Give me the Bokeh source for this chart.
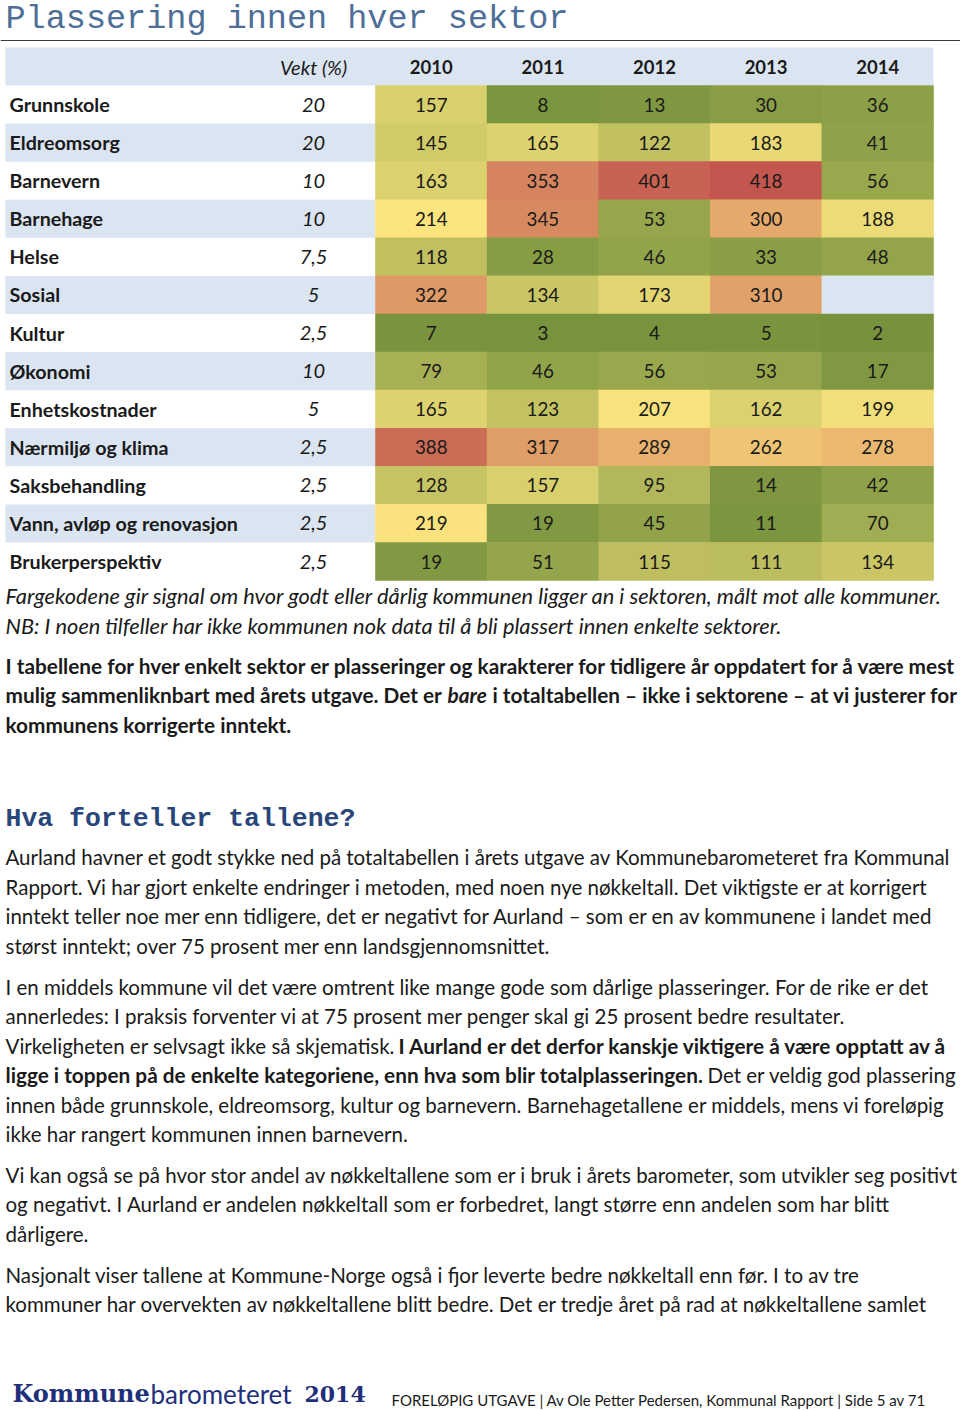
from bokeh.plotting import figure
from bokeh.models import Range1d, ColumnDataSource
from bokeh.core.properties import value
from bokeh.embed import file_html
from bokeh.resources import INLINE

# ---------------- data ----------------
sectors = ["Grunnskole", "Eldreomsorg", "Barnevern", "Barnehage", "Helse", "Sosial",
           "Kultur", "Økonomi", "Enhetskostnader", "Nærmiljø og klima",
           "Saksbehandling", "Vann, avløp og renovasjon", "Brukerperspektiv"]
weights = ["20", "20", "10", "10", "7,5", "5", "2,5", "10", "5", "2,5", "2,5", "2,5", "2,5"]
years = ["2010", "2011", "2012", "2013", "2014"]
r2010 = [157, 145, 163, 214, 118, 322, 7, 79, 165, 388, 128, 219, 19]
r2011 = [8, 165, 353, 345, 28, 134, 3, 46, 123, 317, 157, 19, 51]
r2012 = [13, 122, 401, 53, 46, 173, 4, 56, 207, 289, 95, 45, 115]
r2013 = [30, 183, 418, 300, 33, 310, 5, 53, 162, 262, 14, 11, 111]
r2014 = [36, 41, 56, 188, 48, None, 2, 17, 199, 278, 42, 70, 134]
ranks = [r2010, r2011, r2012, r2013, r2014]

title_text = "Plassering innen hver sektor"
weight_header = "Vekt (%)"
note_lines = [
    "Fargekodene gir signal om hvor godt eller dårlig kommunen ligger an i sektoren, målt mot alle kommuner.",
    "NB: I noen tilfeller har ikke kommunen nok data til å bli plassert innen enkelte sektorer.",
]
heading2 = "Hva forteller tallene?"
footer_logo = ["Kommune", "barometeret", "2014"]
footer_text = "FORELØPIG UTGAVE | Av Ole Petter Pedersen, Kommunal Rapport | Side 5 av 71"

# ---------------- styles ----------------
FONT = "Lato"
TXT = "#1a1a1a"
BLUE_BG = "#dbe5f1"
GREEN = (118, 146, 60)
YELLOW = (252, 229, 127)
RED = (192, 80, 77)
LO, MID, HI = 1, 214, 428


def mix(a, b, t):
    return tuple(int(round(a[k] + (b[k] - a[k]) * t)) for k in range(3))


def cell_color(v):
    if v is None:
        return BLUE_BG
    if v <= MID:
        c = mix(GREEN, YELLOW, (v - LO) / (MID - LO))
    else:
        c = mix(YELLOW, RED, min(1.0, (v - MID) / (HI - MID)))
    return "#%02x%02x%02x" % c


p = figure(width=960, height=1410, x_range=Range1d(0, 960), y_range=Range1d(1410, 0),
           output_backend="svg", toolbar_location=None, min_border=0,
           x_axis_location=None, y_axis_location=None)
p.grid.visible = False
p.outline_line_color = None
p.background_fill_color = "white"
p.border_fill_color = "white"

# title and rule
p.text(x=[5], y=[18], text=[title_text], text_font=value("Liberation Mono"),
       text_font_size=value("33.5px"), text_color="#4d6e96", text_baseline="middle",
       text_align="left")
p.segment(x0=[0], y0=[40], x1=[960], y1=[40], line_color="#3a3a3a", line_width=1.2)

# table geometry
ROW_TOP = 85.0
ROW_H = 38.08
COL_L = 375.0
COL_W = 111.6
LBL_L = 5.0
n = len(sectors)

row_y = [ROW_TOP + ROW_H * (i + 0.5) for i in range(n)]
col_x = [COL_L + COL_W * (j + 0.5) for j in range(len(years))]

# header row background
p.quad(left=[LBL_L], right=[COL_L + COL_W * len(years)], top=[47], bottom=[ROW_TOP],
       fill_color=BLUE_BG, line_color=None)
p.text(x=[313], y=[66], text=[weight_header], text_font=value(FONT), text_font_style="italic",
       text_font_size=value("20px"), text_color=TXT, text_align="center", text_baseline="middle")
p.text(x=col_x, y=[66] * len(years), text=years, text_font=value(FONT), text_font_style="bold",
       text_font_size=value("18.5px"), text_color=TXT, text_align="center", text_baseline="middle")

# label column alternating backgrounds
odd = [i for i in range(n) if i % 2 == 1]
p.quad(left=[LBL_L] * len(odd), right=[COL_L] * len(odd),
       top=[ROW_TOP + ROW_H * i for i in odd], bottom=[ROW_TOP + ROW_H * (i + 1) for i in odd],
       fill_color=BLUE_BG, line_color=None)

p.text(x=[9] * n, y=row_y, text=sectors, text_font=value(FONT), text_font_style="bold",
       text_font_size=value("19.7px"), text_color=TXT, text_align="left", text_baseline="middle")
p.text(x=[313] * n, y=row_y, text=weights, text_font=value(FONT), text_font_style="italic",
       text_font_size=value("20px"), text_color=TXT, text_align="center", text_baseline="middle")

# heatmap cells
cx, cy, cc, ct = [], [], [], []
for j, series in enumerate(ranks):
    for i, v in enumerate(series):
        cx.append(col_x[j])
        cy.append(row_y[i])
        cc.append(cell_color(v))
        ct.append("" if v is None else str(v))
src = ColumnDataSource(dict(x=cx, y=cy, c=cc, t=ct))
p.rect(x="x", y="y", width=COL_W + 0.6, height=ROW_H + 0.6, fill_color="c", line_color=None, source=src)
p.text(x="x", y="y", text="t", source=src, text_font=value(FONT), text_font_size=value("18.8px"),
       text_color=TXT, text_align="center", text_baseline="middle")

# ---------------- body text ----------------
BODY = "20.5px"
BOLD = "20.8px"
ITAL = "21.8px"


def line(x, y, s, style="normal", size=BODY, color=TXT, font=FONT):
    p.text(x=[x], y=[y], text=[s], text_font=value(font), text_font_style=style,
           text_font_size=value(size), text_color=color, text_align="left", text_baseline="middle")


line(5, 595, note_lines[0], "italic", ITAL)
line(5, 625, note_lines[1], "italic", ITAL)

line(5, 665, "I tabellene for hver enkelt sektor er plasseringer og karakterer for tidligere år oppdatert for å være mest", "bold", BOLD)
line(5, 694, "mulig sammenliknbart med årets utgave. Det er", "bold", BOLD)
line(447, 694, "bare", "bold italic", BOLD)
line(492, 694, "i totaltabellen – ikke i sektorene – at vi justerer for", "bold", BOLD)
line(5, 724, "kommunens korrigerte inntekt.", "bold", BOLD)

line(5, 818, heading2, "bold", "26.5px", "#28467a", "Liberation Mono")

body_lines = [
    (856, "Aurland havner et godt stykke ned på totaltabellen i årets utgave av Kommunebarometeret fra Kommunal"),
    (886, "Rapport. Vi har gjort enkelte endringer i metoden, med noen nye nøkkeltall. Det viktigste er at korrigert"),
    (915, "inntekt teller noe mer enn tidligere, det er negativt for Aurland – som er en av kommunene i landet med"),
    (945, "størst inntekt; over 75 prosent mer enn landsgjennomsnittet."),
    (986, "I en middels kommune vil det være omtrent like mange gode som dårlige plasseringer. For de rike er det"),
    (1015, "annerledes: I praksis forventer vi at 75 prosent mer penger skal gi 25 prosent bedre resultater."),
    (1104, "innen både grunnskole, eldreomsorg, kultur og barnevern. Barnehagetallene er middels, mens vi foreløpig"),
    (1133, "ikke har rangert kommunen innen barnevern."),
    (1174, "Vi kan også se på hvor stor andel av nøkkeltallene som er i bruk i årets barometer, som utvikler seg positivt"),
    (1203, "og negativt. I Aurland er andelen nøkkeltall som er forbedret, langt større enn andelen som har blitt"),
    (1233, "dårligere."),
    (1274, "Nasjonalt viser tallene at Kommune-Norge også i fjor leverte bedre nøkkeltall enn før. I to av tre"),
    (1303, "kommuner har overvekten av nøkkeltallene blitt bedre. Det er tredje året på rad at nøkkeltallene samlet"),
]
for y, s in body_lines:
    line(5, y, s)

line(5, 1045, "Virkeligheten er selvsagt ikke så skjematisk.")
line(398, 1045, "I Aurland er det derfor kanskje viktigere å være opptatt av å", "bold", BOLD)
line(5, 1074, "ligge i toppen på de enkelte kategoriene, enn hva som blir totalplasseringen.", "bold", BOLD)
line(707, 1074, "Det er veldig god plassering")

# ---------------- footer ----------------
NAVY = "#1f2f7a"
line(12, 1393, footer_logo[0], "bold", "24px", NAVY, "DejaVu Serif")
line(150, 1393, footer_logo[1], "normal", "26px", NAVY, FONT)
line(304, 1393, footer_logo[2], "bold", "22px", NAVY, "DejaVu Serif")
line(391, 1399, footer_text, "normal", "15px", TXT, FONT)

open("out.html", "w").write(file_html(p, INLINE))
